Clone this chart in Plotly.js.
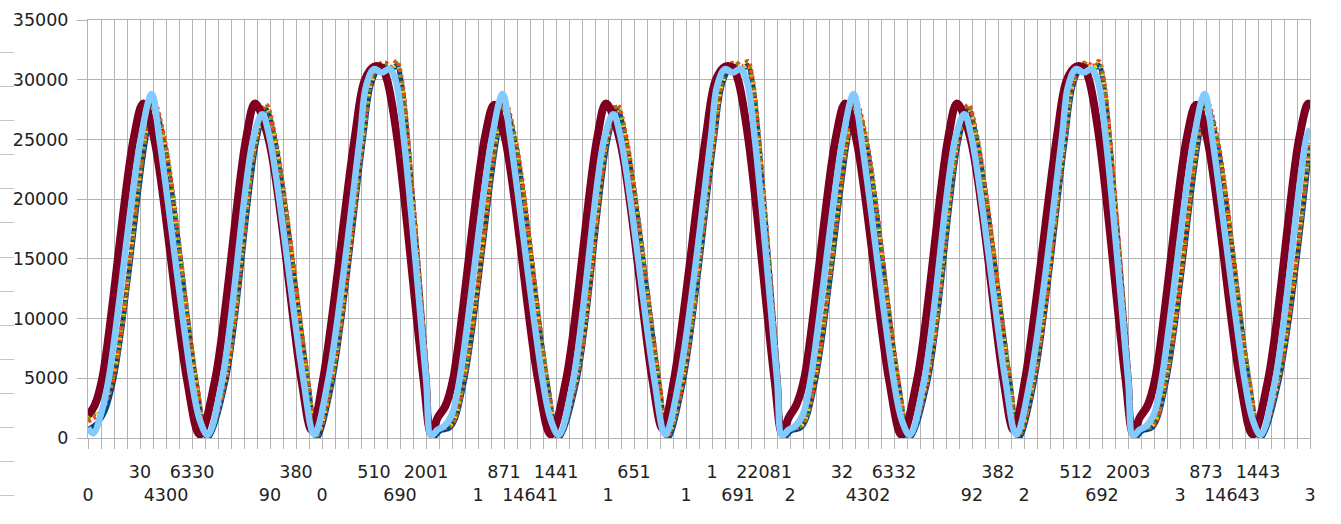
<!DOCTYPE html>
<html>
<head>
<meta charset="utf-8">
<script src="https://cdn.plot.ly/plotly-3.0.1.min.js"></script>
<style>
  html, body { margin: 0; padding: 0; background: #fff; }
  #chart { width: 1341px; height: 524px; }
  #rowmarks {
    position: absolute; left: 0; top: 52px; width: 14px; height: 446px;
    background: repeating-linear-gradient(to bottom, #c4c4c4 0, #c4c4c4 1px, transparent 1px, transparent 34.1px);
  }
</style>
</head>
<body>
<div id="chart"></div>
<div id="rowmarks"></div>
<script>
// category labels (position = gridline index, row 1 = upper, row 2 = lower)
const labelSlots = [0, 4, 6, 8, 14, 16, 18, 22, 24, 26, 30, 32, 34, 36, 40, 42, 46, 48,
  50, 52, 54, 58, 60, 62, 68, 70, 72, 76, 78, 80, 84, 86, 88, 90, 94];
const labelTexts = ["0", "30", "4300", "6330", "90", "380", "0", "510", "690", "2001",
  "1", "871", "14641", "1441", "1", "651", "1", "1", "691", "22081", "2", "32", "4302",
  "6332", "92", "382", "2", "512", "692", "2003", "3", "873", "14643", "1443", "3"];
const labelRows = [2, 1, 2, 1, 2, 1, 2, 1, 2, 1, 2, 1, 2, 1, 2, 1, 2, 1,
  2, 1, 2, 1, 2, 1, 2, 1, 2, 1, 2, 1, 2, 1, 2, 1, 2];
const gridCount = 94;

// series 5 (maroon, thick)
const drX = [
  0, 0.5, 1.1, 3.5, 4.25, 5.1, 7.6, 8.6, 9.8, 12.15, 12.85, 13.9, 16.4, 17.2, 18.1, 20.5, 21.3, 22.0, 22.6, 23.0, 23.8, 25.8, 26.4, 26.9,
  27.5, 28.1, 30.5, 31.25, 32.1, 34.6, 35.6, 36.8, 39.15, 39.85, 40.9, 43.4, 44.2, 45.1, 47.5, 48.3, 49.0, 49.6, 50.0, 50.8, 52.8, 53.4, 53.9,
  54.5, 55.1, 57.5, 58.25, 59.1, 61.6, 62.6, 63.8, 66.15, 66.85, 67.9, 70.4, 71.2, 72.1, 74.5, 75.3, 76.0, 76.6, 77.0, 77.8, 79.8, 80.4, 80.9,
  81.5, 82.1, 84.5, 85.25, 86.1, 88.6, 89.6, 90.8, 93.15, 93.85, 94
];
const drY = [
  1900, 2700, 5000, 25000, 28000, 25000, 5000, 300, 5000, 25000, 28000, 25000, 5000, 700, 5000, 25000, 30000, 31100, 31000, 30000, 25000, 5000, 400, 1700,
  2700, 5000, 25000, 27900, 25000, 5000, 300, 5000, 25000, 28000, 25000, 5000, 800, 5000, 25000, 30000, 31100, 31000, 30000, 25000, 5000, 400, 1700,
  2800, 5000, 25000, 28000, 25000, 5000, 250, 5000, 25000, 28000, 25000, 5000, 700, 5000, 25000, 30000, 31100, 31000, 30000, 25000, 5000, 400, 1700,
  2700, 5000, 25000, 27900, 25000, 5000, 300, 5000, 25000, 28000, 27700
];

// series 6 (light blue, thick)
const lbX = [
  0, 0.4, 1.0, 1.6, 4.05, 4.9, 5.5, 7.95, 8.6, 9.2, 10.35, 12.7, 13.4, 14.0, 16.55, 17.4, 18.5, 20.9, 21.4, 22.0, 22.6, 23.2, 23.7, 24.3, 26.0, 26.4, 26.9,
  27.4, 28.0, 28.6, 31.05, 31.9, 32.5, 34.95, 35.6, 36.2, 37.35, 39.7, 40.4, 41.0, 43.55, 44.4, 45.5, 47.9, 48.4, 49.0, 49.6, 50.2, 50.7, 51.3, 53.0, 53.4, 53.9,
  54.4, 55.0, 55.6, 58.05, 58.9, 59.5, 61.95, 62.6, 63.2, 64.35, 66.7, 67.4, 68.0, 70.55, 71.4, 72.5, 74.9, 75.4, 76.0, 76.6, 77.2, 77.7, 78.3, 80.0, 80.4, 80.9,
  81.4, 82.0, 82.6, 85.05, 85.9, 86.5, 88.95, 89.6, 90.2, 91.35, 93.7, 94
];
const lbY = [
  850, 400, 2000, 5000, 25000, 28800, 25000, 5000, 1500, 250, 5000, 25000, 27100, 25000, 5000, 300, 5000, 25000, 29500, 30900, 30600, 30900, 29800, 25000, 5000, 200, 700,
  1000, 2000, 5000, 25000, 28800, 25000, 5000, 1500, 250, 5000, 25000, 27100, 25000, 5000, 300, 5000, 25000, 29500, 30900, 30600, 30900, 29800, 25000, 5000, 200, 700,
  1000, 2000, 5000, 25000, 28800, 25000, 5000, 1500, 250, 5000, 25000, 27100, 25000, 5000, 300, 5000, 25000, 29500, 30900, 30600, 30900, 29800, 25000, 5000, 200, 700,
  1000, 2000, 5000, 25000, 28800, 25000, 5000, 1500, 250, 5000, 25000, 25900
];

// series 1-4 (thin lines, lagging)
const thinX = [
  0, 1.0, 1.95, 4.4, 5.0, 5.85, 8.3, 9.2, 10.6, 12.95, 13.7, 14.4, 16.9, 17.6, 18.8, 21.15, 21.8, 22.4, 22.9, 23.3, 23.75, 24.1, 24.6, 26.1, 26.5,
  27.1, 27.9, 28.95, 31.4, 32.0, 32.85, 35.3, 36.2, 37.6, 39.95, 40.7, 41.4, 43.9, 44.6, 45.8, 48.15, 48.8, 49.4, 49.9, 50.3, 50.75, 51.1, 51.6, 53.1, 53.5,
  54.1, 54.9, 55.95, 58.4, 59.0, 59.85, 62.3, 63.2, 64.6, 66.95, 67.7, 68.4, 70.9, 71.6, 72.8, 75.15, 75.8, 76.4, 76.9, 77.3, 77.75, 78.1, 78.6, 80.1, 80.5,
  81.1, 81.9, 82.95, 85.4, 86.0, 86.85, 89.3, 90.2, 91.6, 94
];
const navyY = [
  700, 1600, 4700, 24700, 27900, 24800, 4800, 0, 4700, 24700, 27500, 24800, 4800, 0, 4700, 24700, 29600, 31000, 31100, 30800, 31200, 29800, 24800, 4800, 0,
  600, 900, 4700, 24700, 27900, 24800, 4800, 0, 4700, 24700, 27500, 24800, 4800, 0, 4700, 24700, 29600, 31000, 31100, 30800, 31200, 29800, 24800, 4800, 0,
  600, 900, 4700, 24700, 27900, 24800, 4800, 0, 4700, 24700, 27500, 24800, 4800, 0, 4700, 24700, 29600, 31000, 31100, 30800, 31200, 29800, 24800, 4800, 0,
  600, 900, 4700, 24700, 27900, 24800, 4800, 0, 4700, 24500
];
const orangeY = [
  1400, 2200, 5000, 25100, 28300, 25200, 5100, 200, 4900, 25000, 27900, 25200, 5100, 200, 4900, 24900, 29900, 31300, 31400, 31100, 31550, 30200, 25200, 5100, 150,
  800, 1000, 4900, 24900, 28300, 25200, 5100, 200, 4900, 24900, 27900, 25200, 5100, 200, 4900, 24900, 29900, 31300, 31400, 31100, 31550, 30200, 25200, 5100, 150,
  800, 1000, 4900, 24900, 28300, 25200, 5100, 200, 4900, 24900, 27900, 25200, 5100, 200, 4900, 24900, 29900, 31300, 31400, 31100, 31550, 30200, 25200, 5100, 150,
  800, 1000, 4900, 24900, 28300, 25200, 5100, 200, 4900, 24800
];
const yellowY = [
  1700, 2500, 5200, 25200, 28000, 24900, 4900, 300, 5100, 25100, 27600, 24900, 4900, 300, 5100, 25100, 29700, 31100, 31200, 30900, 31300, 29900, 24900, 4900, 250,
  900, 1100, 5100, 25100, 28000, 24900, 4900, 300, 5100, 25100, 27600, 24900, 4900, 300, 5100, 25100, 29700, 31100, 31200, 30900, 31300, 29900, 24900, 4900, 250,
  900, 1100, 5100, 25100, 28000, 24900, 4900, 300, 5100, 25100, 27600, 24900, 4900, 300, 5100, 25100, 29700, 31100, 31200, 30900, 31300, 29900, 24900, 4900, 250,
  900, 1100, 5100, 25100, 28000, 24900, 4900, 300, 5100, 25000
];
const greenY = [
  1600, 2400, 5100, 24900, 28200, 25100, 5200, 150, 5000, 24800, 27800, 25100, 5200, 150, 5000, 24800, 29800, 31200, 31350, 31000, 31450, 30100, 25100, 5200, 100,
  750, 1000, 5000, 24800, 28200, 25100, 5200, 150, 5000, 24800, 27800, 25100, 5200, 150, 5000, 24800, 29800, 31200, 31350, 31000, 31450, 30100, 25100, 5200, 100,
  750, 1000, 5000, 24800, 28200, 25100, 5200, 150, 5000, 24800, 27800, 25100, 5200, 150, 5000, 24800, 29800, 31200, 31350, 31000, 31450, 30100, 25100, 5200, 100,
  750, 1000, 5000, 24800, 28200, 25100, 5200, 150, 5000, 24700
];

// tick positions / labels on every gridline
const tickvals = [];
const ticktext = [];
for (let g = 0; g <= gridCount; g++) {
  tickvals.push(g);
  const idx = labelSlots.indexOf(g);
  if (idx < 0) {
    ticktext.push("");
  } else {
    ticktext.push(labelRows[idx] === 2 ? "<br>" + labelTexts[idx] : labelTexts[idx]);
  }
}

function lineTrace(x, y, color, width, dash) {
  return {
    x: x, y: y, type: "scatter", mode: "lines",
    line: { color: color, width: width, shape: "spline", smoothing: 1, dash: dash || "solid" },
    hoverinfo: "skip",
  };
}

const traces = [
  lineTrace(thinX, navyY, "#004586", 5),
  lineTrace(thinX, orangeY, "#ff420e", 4.5, "3px,3px"),
  lineTrace(thinX, yellowY, "#ffd320", 4, "2px,6px"),
  lineTrace(thinX, greenY, "#579d1c", 3, "2px,5px"),
  lineTrace(drX, drY, "#7e0021", 8),
  lineTrace(lbX, lbY, "#83caff", 6.5),
];

const gridColor = "#b3b3b3";

const layout = {
  width: 1341,
  height: 524,
  margin: { l: 88, r: 31, t: 20, b: 86 },
  paper_bgcolor: "#ffffff",
  plot_bgcolor: "#ffffff",
  showlegend: false,
  font: { family: "DejaVu Sans, sans-serif", size: 17.5, color: "#222222" },
  xaxis: {
    range: [0, gridCount],
    tickmode: "array",
    tickvals: tickvals,
    ticktext: ticktext,
    tickangle: 0,
    ticks: "outside",
    ticklen: 10,
    tickcolor: gridColor,
    showgrid: true,
    gridcolor: gridColor,
    gridwidth: 1,
    showline: true,
    linecolor: gridColor,
    mirror: true,
    zeroline: false,
    ticklabelstandoff: 8,
    automargin: false,
  },
  yaxis: {
    range: [0, 35000],
    tick0: 0,
    dtick: 5000,
    tickformat: "d",
    ticks: "outside",
    ticklen: 10,
    tickcolor: gridColor,
    showgrid: true,
    gridcolor: gridColor,
    showline: true,
    linecolor: gridColor,
    mirror: true,
    zeroline: false,
    ticklabelstandoff: 5,
    automargin: false,
  },
};

Plotly.newPlot("chart", traces, layout, { staticPlot: true });
</script>
</body>
</html>
